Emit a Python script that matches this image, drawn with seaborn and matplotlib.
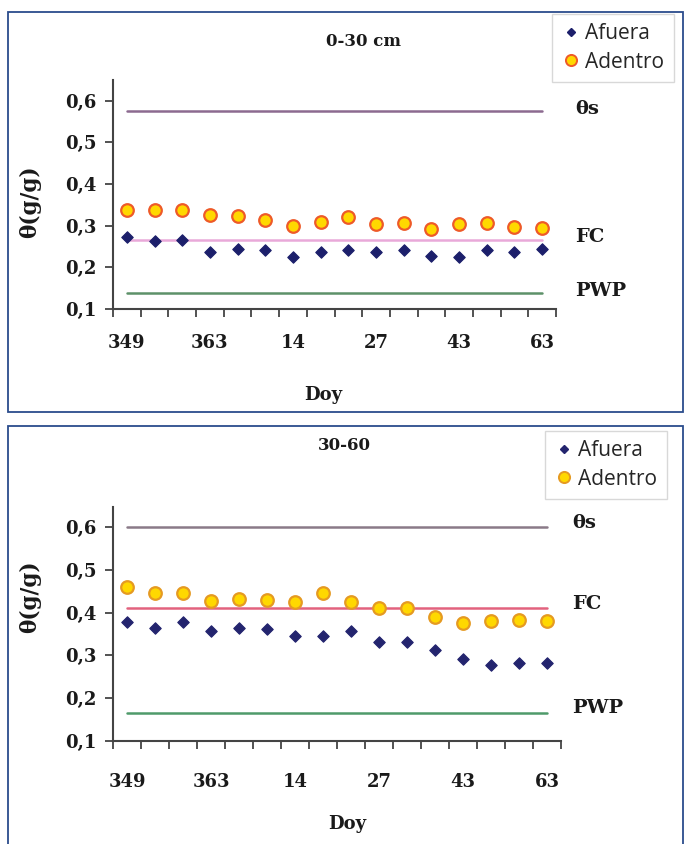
import numpy as np
import pandas as pd
import matplotlib
matplotlib.use("Agg")
import matplotlib.pyplot as plt
from matplotlib.patches import Rectangle
from matplotlib.lines import Line2D
import seaborn as sns

sns.set_style("white")
plt.rcParams['font.family'] = ['DejaVu Serif', 'DejaVu Sans']

# ---------------- data ----------------
tick_labels = ["349", "363", "14", "27", "43", "63"]
n_obs = 16

afuera_0_30 = [0.274, 0.264, 0.266, 0.238, 0.244, 0.242, 0.225, 0.238,
               0.242, 0.238, 0.242, 0.227, 0.225, 0.242, 0.238, 0.245]
adentro_0_30 = [0.338, 0.338, 0.338, 0.325, 0.323, 0.314, 0.299, 0.310,
                0.320, 0.303, 0.306, 0.291, 0.303, 0.306, 0.298, 0.294]
ref_0_30 = {"θs": 0.575, "FC": 0.266, "PWP": 0.138}

afuera_30_60 = [0.379, 0.364, 0.379, 0.356, 0.364, 0.361, 0.346, 0.346,
                0.357, 0.331, 0.331, 0.312, 0.292, 0.277, 0.282, 0.282]
adentro_30_60 = [0.459, 0.447, 0.447, 0.428, 0.433, 0.429, 0.425, 0.445,
                 0.425, 0.412, 0.410, 0.390, 0.375, 0.381, 0.383, 0.380]
ref_30_60 = {"θs": 0.600, "FC": 0.411, "PWP": 0.166}

W, H = 688, 844
fig = plt.figure(figsize=(W / 100, H / 100), dpi=100)
fig.patch.set_facecolor("white")

def fx(px):
    return px / W

def fy(py):
    return 1 - py / H

# panel borders
fig.add_artist(Rectangle((fx(8), fy(412)), fx(683) - fx(8), fy(12) - fy(412),
                         transform=fig.transFigure, fill=False,
                         edgecolor="#2b4c8c", lw=1.3))
fig.add_artist(Rectangle((fx(8), fy(860)), fx(683) - fx(8), fy(426) - fy(860),
                         transform=fig.transFigure, fill=False,
                         edgecolor="#2b4c8c", lw=1.3))

panels = [
    dict(title="0-30 cm", afuera=afuera_0_30, adentro=adentro_0_30, ref=ref_0_30,
         rect=[fx(113), fy(309), fx(556) - fx(113), fy(80) - fy(309)],
         ylim=(0.1, 0.65), title_xy=(363, 42),
         ref_colors={"θs": "#8c6a90", "FC": "#e9a9d9", "PWP": "#5d9169"},
         ref_x=1.043, ref_dy=0.006, ylab=(-0.163, 0.47), xlab=(0.474, -0.335),
         xpad=18, leg=(552, 14), edge="#ee5a28", dcol="#1c1f6b"),
    dict(title="30-60", afuera=afuera_30_60, adentro=adentro_30_60, ref=ref_30_60,
         rect=[fx(113), fy(741), fx(561) - fx(113), fy(507) - fy(741)],
         ylim=(0.1, 0.647), title_xy=(344, 445),
         ref_colors={"θs": "#8a7a88", "FC": "#e2627e", "PWP": "#4f9a6a"},
         ref_x=1.025, ref_dy=0.01, ylab=(-0.161, 0.615), xlab=(0.522, -0.315),
         xpad=23, leg=(545, 431), edge="#e59a22", dcol="#23246e"),
]

for p in panels:
    ax = fig.add_axes(p["rect"])
    df = pd.DataFrame({"pos": np.arange(n_obs),
                       "Afuera": p["afuera"], "Adentro": p["adentro"]})
    # reference lines
    for name, val in p["ref"].items():
        ax.plot([df["pos"].iloc[0], df["pos"].iloc[-1]], [val, val],
                color=p["ref_colors"][name], lw=1.8, zorder=1)
        ax.text(p["ref_x"], val + p["ref_dy"], name,
                transform=ax.get_yaxis_transform(), ha="left", va="center",
                fontsize=14, fontweight="bold", color="#1a1a1a")
    sns.scatterplot(data=df, x="pos", y="Adentro", ax=ax, marker="o", s=82,
                    color="#ffd800", edgecolor=p["edge"], linewidth=1.6,
                    zorder=3, legend=False)
    sns.scatterplot(data=df, x="pos", y="Afuera", ax=ax, marker="D", s=34,
                    color=p["dcol"], edgecolor=p["dcol"], linewidth=0.8,
                    zorder=4, legend=False)

    ax.set_xlim(-0.5, n_obs - 0.5)
    ax.set_ylim(*p["ylim"])
    ax.set_yticks([0.1, 0.2, 0.3, 0.4, 0.5, 0.6])
    ax.set_yticklabels(["0,1", "0,2", "0,3", "0,4", "0,5", "0,6"],
                       fontsize=13, fontweight="bold", color="#1a1a1a")
    ax.set_xticks(np.arange(0, n_obs, 3))
    ax.set_xticklabels(tick_labels, fontsize=13, fontweight="bold", color="#1a1a1a")
    ax.set_xticks(np.arange(-0.5, n_obs, 1), minor=True)
    ax.tick_params(axis="x", which="major", length=0, pad=p["xpad"])
    ax.tick_params(axis="x", which="minor", length=6, width=1.3,
                   direction="out", color="#444444", bottom=True)
    ax.tick_params(axis="y", which="major", length=6, width=1.3,
                   direction="out", color="#444444", left=True, pad=6)
    for side in ["top", "right"]:
        ax.spines[side].set_visible(False)
    for side in ["left", "bottom"]:
        ax.spines[side].set_color("#444444")
        ax.spines[side].set_linewidth(1.5)
    ax.set_facecolor("white")

    ax.set_ylabel("θ(g/g)", fontsize=15.5, fontweight="bold", color="#1a1a1a")
    ax.yaxis.set_label_coords(*p["ylab"])
    ax.set_xlabel("Doy", fontsize=13, fontweight="bold", color="#1a1a1a")
    ax.xaxis.set_label_coords(*p["xlab"])

    fig.text(fx(p["title_xy"][0]), fy(p["title_xy"][1]), p["title"],
             ha="center", va="center", fontsize=12, fontweight="bold",
             color="#1a1a1a")

    handles = [
        Line2D([], [], ls="none", marker="D", ms=4.5, color=p["dcol"]),
        Line2D([], [], ls="none", marker="o", ms=8, markerfacecolor="#ffd800",
               markeredgecolor=p["edge"], markeredgewidth=1.4),
    ]
    leg = fig.legend(handles, ["Afuera", "Adentro"], loc="upper left",
                     bbox_to_anchor=(fx(p["leg"][0]), fy(p["leg"][1])),
                     bbox_transform=fig.transFigure, frameon=True,
                     fancybox=False, edgecolor="#cfcfcf", borderpad=0.45,
                     handletextpad=0.25, handlelength=0.9, labelspacing=0.35,
                     borderaxespad=0,
                     prop={"family": "Open Sans", "size": 15})
    leg.get_frame().set_linewidth(1.0)

fig.savefig("out.png", dpi=100, facecolor="white")
